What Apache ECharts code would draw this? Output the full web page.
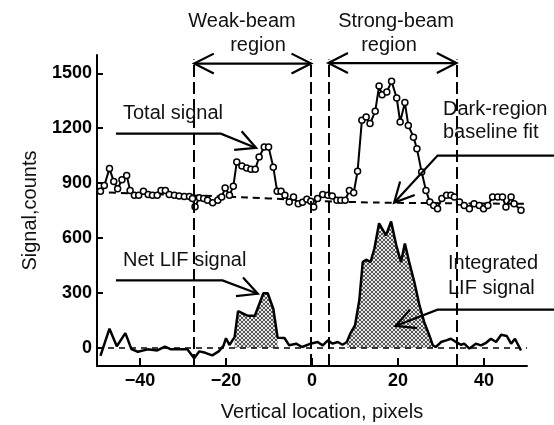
<!DOCTYPE html>
<html>
<head>
<meta charset="utf-8">
<script src="https://cdn.jsdelivr.net/npm/echarts@6/dist/echarts.min.js"></script>
<style>
  html, body { margin: 0; padding: 0; background: #fff; }
  #main { width: 554px; height: 425px; }
</style>
</head>
<body>
<div id="main"></div>
<script>
// total signal (open circles)
const totalX = [-49.2, -48.3, -47.1, -46.1, -45.2, -44.2, -43.1, -42.3, -41.3, -40.3, -39.2, -38.1, -37.1, -36.0, -35.1, -34.1, -33.2, -32.0, -30.9, -29.7, -28.5, -27.8, -27.2, -26.2, -25.2, -24.3, -23.1, -21.9, -21.0, -20.2, -19.2, -18.3, -17.5, -16.3, -15.2, -14.2, -13.2, -12.3, -11.1, -10.1, -9.0, -8.1, -7.2, -6.3, -5.3, -4.3, -3.2, -2.2, -1.2, -0.3, 0.4, 1.3, 2.5, 3.7, 4.7, 5.8, 6.7, 7.7, 8.7, 9.7, 10.6, 11.6, 12.6, 13.5, 14.7, 15.6, 16.3, 17.4, 18.5, 19.7, 20.5, 21.6, 22.4, 23.6, 24.4, 25.5, 26.5, 27.4, 28.3, 29.2, 30.2, 31.3, 32.3, 33.1, 34.3, 35.4, 36.6, 37.7, 38.9, 39.9, 40.9, 42.0, 43.2, 44.3, 45.1, 46.3, 47.0, 48.6];
const totalY = [855, 887, 979, 909, 869, 918, 942, 860, 833, 833, 855, 838, 833, 833, 860, 860, 838, 833, 829, 827, 827, 815, 770, 820, 815, 806, 793, 806, 824, 873, 833, 882, 1015, 993, 982, 975, 975, 1042, 1097, 1097, 987, 855, 855, 833, 797, 824, 787, 795, 812, 800, 769, 815, 837, 833, 829, 806, 806, 806, 860, 847, 964, 1243, 1261, 1225, 1292, 1430, 1383, 1398, 1456, 1365, 1234, 1340, 1215, 1151, 1088, 960, 860, 797, 778, 760, 815, 833, 833, 824, 797, 778, 760, 787, 778, 760, 778, 824, 824, 824, 769, 824, 787, 751];

// net LIF signal
const netX = [-49.2, -47.1, -45.4, -43.4, -42.0, -40.5, -38.2, -36.0, -34.2, -32.8, -29.0, -27.4, -26.2, -24.8, -23.2, -21.7, -20.6, -20.0, -19.2, -18.0, -17.2, -15.0, -13.3, -11.3, -10.3, -9.0, -8.0, -6.4, -5.3, -3.7, -2.3, -0.6, 1.3, 2.5, 3.7, 4.8, 6.0, 7.1, 8.1, 8.9, 10.0, 11.0, 11.8, 12.6, 13.6, 14.5, 15.6, 17.2, 18.4, 19.6, 20.7, 21.6, 22.6, 23.8, 25.0, 26.1, 27.3, 28.1, 28.8, 30.0, 31.2, 32.3, 33.5, 34.7, 35.4, 36.6, 38.1, 39.3, 40.5, 41.6, 42.8, 44.0, 45.3, 46.3, 47.2, 48.6];
const netY = [-45, 104, 8, 80, -8, -22, -9, -15, 6, -9, -9, -58, -20, -28, -42, -20, 10, 52, 15, 58, 200, 175, 175, 298, 298, 213, 55, 53, 13, 22, 4, 20, 31, 13, 40, 22, 31, 16, 31, 77, 122, 259, 468, 481, 468, 541, 680, 614, 690, 560, 468, 569, 468, 359, 231, 140, 67, 13, 4, 31, 40, 49, 31, 16, 22, -5, 22, 13, 27, 49, 31, 71, 64, 22, 49, -15];

// dark-region baseline fit
const fitX = [-50, -40, -30, -20, -10, 0, 10, 20, 30, 40, 50];
const fitY = [850, 842, 834, 826, 816, 804, 796, 792, 790, 788, 787];

// region boundaries and shaded (integrated) ranges
const regionEdges = [-27.4, -0.2, 3.8, 33.6];
const weakRange = [-18.5, -7.5];
const strongRange = [8, 28.5];

const xTicks = [-40, -20, 0, 20, 40];
const yTicks = [0, 300, 600, 900, 1200, 1500];

const FONT = '"Liberation Sans", Arial, sans-serif';

const zip = (xs, ys) => xs.map((x, i) => [x, ys[i]]);
const netData = zip(netX, netY);
const inRange = (r) => netData.filter((p) => p[0] >= r[0] && p[0] <= r[1]);

// stipple / cross hatch used for the integrated LIF area
function makeHatch() {
  const c = document.createElement('canvas');
  c.width = 4;
  c.height = 4;
  const g = c.getContext('2d');
  g.fillStyle = '#e6e6e6';
  g.fillRect(0, 0, 4, 4);
  g.fillStyle = '#555';
  [[0, 0], [1, 1], [2, 2], [3, 3], [3, 0], [2, 1], [1, 2], [0, 3]].forEach((p) => g.fillRect(p[0], p[1], 1, 1));
  return c;
}
const hatch = makeHatch();

const chart = echarts.init(document.getElementById('main'), null, { renderer: 'canvas' });

const shadeSeries = (r) => ({
  type: 'line',
  data: inRange(r),
  symbol: 'none',
  lineStyle: { width: 0 },
  areaStyle: { color: { image: hatch, repeat: 'repeat' }, opacity: 1, origin: 0 },
  z: 1,
  silent: true,
});

const option = {
  animation: false,
  backgroundColor: '#fff',
  grid: { left: 97, right: 27, top: 55, bottom: 59, containLabel: false, outerBoundsMode: 'none' },
  xAxis: {
    type: 'value',
    min: -50,
    max: 50,
    name: 'Vertical location, pixels',
    nameLocation: 'middle',
    nameGap: 36,
    nameTextStyle: { fontFamily: FONT, fontSize: 20, color: '#111', padding: [0, 0, 0, 20] },
    axisLine: { onZero: false, lineStyle: { color: '#000', width: 2 } },
    axisTick: { inside: true, length: 8, customValues: xTicks, lineStyle: { color: '#000', width: 2 } },
    axisLabel: {
      customValues: xTicks,
      margin: 6,
      fontFamily: FONT,
      fontSize: 18,
      fontWeight: 'bold',
      color: '#000',
      formatter: (v) => (v < 0 ? '\u2212' + Math.abs(v) : String(v)),
    },
    splitLine: { show: false },
  },
  yAxis: {
    type: 'value',
    min: -100,
    max: 1600,
    name: 'Signal,counts',
    nameLocation: 'middle',
    nameGap: 57,
    nameTextStyle: { fontFamily: FONT, fontSize: 20, color: '#111' },
    axisLine: { show: true, onZero: false, lineStyle: { color: '#000', width: 2 } },
    axisTick: { show: true, inside: true, length: 6, customValues: yTicks, lineStyle: { color: '#000', width: 2 } },
    axisLabel: {
      customValues: yTicks,
      margin: 5,
      fontFamily: FONT,
      fontSize: 18,
      fontWeight: 'bold',
      color: '#000',
      formatter: (v) => String(v),
    },
    splitLine: { show: false },
  },
  series: [
    shadeSeries(weakRange),
    shadeSeries(strongRange),
    {
      // baseline fit
      type: 'line',
      data: zip(fitX, fitY),
      smooth: true,
      symbol: 'none',
      lineStyle: { color: '#000', width: 2, type: [7, 5] },
      z: 2,
    },
    {
      // net LIF signal + reference lines
      type: 'line',
      data: netData,
      symbol: 'none',
      lineStyle: { color: '#000', width: 2.5 },
      z: 3,
      markLine: {
        silent: true,
        symbol: 'none',
        label: { show: false },
        data: [
          { yAxis: 0, lineStyle: { color: '#000', width: 1.5, type: [6, 5] } },
          ...regionEdges.map((x) => [
            { coord: [x, -100], lineStyle: { color: '#000', width: 2, type: [12, 5] } },
            { coord: [x, 1575] },
          ]),
        ],
      },
    },
    {
      // total signal
      type: 'line',
      data: zip(totalX, totalY),
      symbol: 'circle',
      symbolSize: 6,
      lineStyle: { color: '#000', width: 2 },
      itemStyle: { color: '#fff', borderColor: '#000', borderWidth: 1.5 },
      z: 4,
    },
  ],
};
chart.setOption(option);

// ---- annotations (data coordinates, converted to pixels) ----
const arrows = [
  { path: [[-45.6, 1170], [-21.2, 1170], [-13.0, 1092]] }, // total signal
  { path: [[-45.6, 368], [-20.8, 368], [-12.6, 295]] }, // net LIF signal
  { path: [[56.5, 1050], [29.2, 1050], [19.1, 793]] }, // baseline fit
  { path: [[56.5, 208], [29.2, 208], [19.4, 119]] }, // integrated LIF
  { path: [[-27.4, 1553], [-0.2, 1553]], both: true }, // weak-beam
  { path: [[3.8, 1556], [33.6, 1556]], both: true }, // strong-beam
];

const labels = [
  { text: 'Weak-beam', x: 242, y: 21, align: 'center' },
  { text: 'region', x: 258, y: 45, align: 'center' },
  { text: 'Strong-beam', x: 396, y: 21, align: 'center' },
  { text: 'region', x: 389, y: 45, align: 'center' },
  { text: 'Total signal', x: 123, y: 113, align: 'left' },
  { text: 'Dark-region', x: 443, y: 109, align: 'left' },
  { text: 'baseline fit', x: 443, y: 132, align: 'left' },
  { text: 'Net LIF signal', x: 123, y: 260, align: 'left' },
  { text: 'Integrated', x: 448, y: 263, align: 'left' },
  { text: 'LIF signal', x: 448, y: 288, align: 'left' },
];

const toPx = (p) => chart.convertToPixel({ gridIndex: 0 }, p);

function head(tip, from) {
  const a = Math.atan2(from[1] - tip[1], from[0] - tip[0]);
  const len = 22, ang = 0.47;
  return [
    [tip[0] + len * Math.cos(a + ang), tip[1] + len * Math.sin(a + ang)],
    tip,
    [tip[0] + len * Math.cos(a - ang), tip[1] + len * Math.sin(a - ang)],
  ];
}

const lineStyle = { stroke: '#000', lineWidth: 2.2, fill: null };
const elements = [];
arrows.forEach((ar) => {
  const pts = ar.path.map(toPx);
  elements.push({ type: 'polyline', shape: { points: pts }, style: lineStyle, z: 100 });
  const n = pts.length;
  elements.push({ type: 'polyline', shape: { points: head(pts[n - 1], pts[n - 2]) }, style: lineStyle, z: 100 });
  if (ar.both) {
    elements.push({ type: 'polyline', shape: { points: head(pts[0], pts[1]) }, style: lineStyle, z: 100 });
  }
});
labels.forEach((l) => {
  elements.push({
    type: 'text',
    x: l.x,
    y: l.y,
    z: 101,
    style: {
      text: l.text,
      font: '20px ' + FONT,
      fill: '#111',
      align: l.align,
      verticalAlign: 'middle',
    },
  });
});
chart.setOption({ graphic: elements });
</script>
</body>
</html>
